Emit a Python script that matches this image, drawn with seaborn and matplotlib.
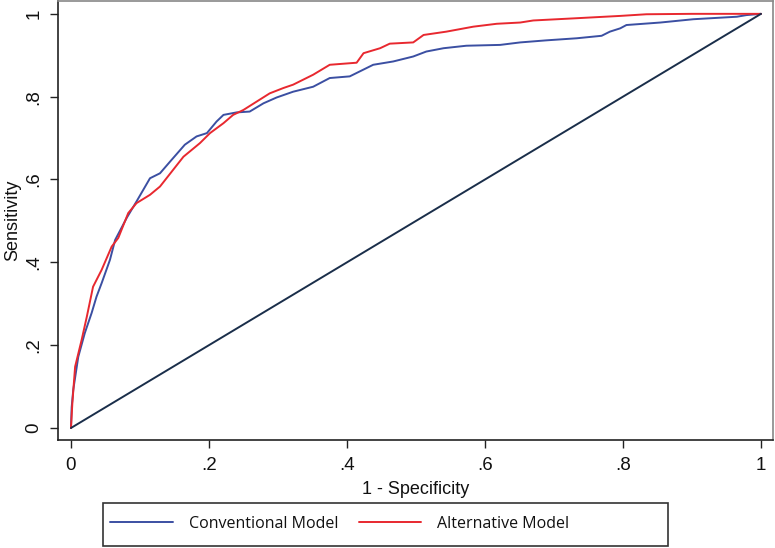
"""ROC curves: conventional vs alternative model (Stata-style look)."""

import matplotlib
matplotlib.use("Agg")
import matplotlib.pyplot as plt
import pandas as pd
import seaborn as sns
from matplotlib.patches import Rectangle

# curve points (1 - specificity, sensitivity)
conv_fpr = [0.0, 0.001, 0.0033, 0.0106, 0.020, 0.030, 0.037, 0.0445, 0.0565,
            0.064, 0.081, 0.095, 0.1145, 0.129, 0.1435, 0.165, 0.182, 0.197,
            0.211, 0.221, 0.240, 0.259, 0.279, 0.298, 0.322, 0.351, 0.375,
            0.404, 0.438, 0.467, 0.496, 0.515, 0.540, 0.573, 0.622, 0.651,
            0.689, 0.733, 0.769, 0.781, 0.796, 0.805, 0.854, 0.902, 0.965,
            0.979, 1.0]
conv_tpr = [0.0, 0.05, 0.092, 0.172, 0.229, 0.278, 0.317, 0.350, 0.406,
            0.454, 0.508, 0.547, 0.603, 0.615, 0.643, 0.684, 0.704, 0.712,
            0.740, 0.756, 0.762, 0.764, 0.784, 0.798, 0.812, 0.824, 0.845,
            0.849, 0.877, 0.885, 0.897, 0.909, 0.917, 0.923, 0.925, 0.931,
            0.936, 0.941, 0.947, 0.957, 0.965, 0.973, 0.979, 0.987, 0.993,
            0.997, 1.0]

alt_fpr = [0.0, 0.002, 0.006, 0.0155, 0.023, 0.032, 0.0445, 0.059, 0.0686,
           0.083, 0.095, 0.1145, 0.129, 0.146, 0.163, 0.187, 0.2015, 0.221,
           0.235, 0.250, 0.269, 0.288, 0.308, 0.322, 0.351, 0.375, 0.414,
           0.424, 0.448, 0.462, 0.496, 0.511, 0.544, 0.583, 0.617, 0.651,
           0.670, 0.728, 0.796, 0.834, 0.9, 1.0]
alt_tpr = [0.0, 0.06, 0.148, 0.213, 0.269, 0.341, 0.382, 0.438, 0.459,
           0.519, 0.543, 0.563, 0.583, 0.619, 0.655, 0.688, 0.712, 0.736,
           0.756, 0.768, 0.788, 0.808, 0.821, 0.829, 0.853, 0.877, 0.882,
           0.905, 0.917, 0.928, 0.931, 0.949, 0.957, 0.969, 0.976, 0.979,
           0.984, 0.989, 0.995, 0.999, 1.0, 1.0]

ref_x = [0.0, 1.0]
ref_y = [0.0, 1.0]

models = ["Conventional Model", "Alternative Model"]
ticks = [0, 0.2, 0.4, 0.6, 0.8, 1.0]
tick_labels = ["0", ".2", ".4", ".6", ".8", "1"]

BLUE = "#3b4fa2"
RED = "#e8282f"
NAVY = "#1a2e4a"

sns.set_style("ticks")
plt.rcParams["font.family"] = ["Liberation Sans", "DejaVu Sans"]

df = pd.concat([
    pd.DataFrame({"fpr": conv_fpr, "tpr": conv_tpr, "model": models[0]}),
    pd.DataFrame({"fpr": alt_fpr, "tpr": alt_tpr, "model": models[1]}),
], ignore_index=True)

fig = plt.figure(figsize=(7.75, 5.48), dpi=100)
ax = fig.add_axes([58 / 775, 108 / 548, 715 / 775, 439 / 548])

sns.lineplot(data=df, x="fpr", y="tpr", hue="model", palette=[BLUE, RED],
             sort=False, estimator=None, lw=1.4, ax=ax, legend=False)
sns.lineplot(x=ref_x, y=ref_y, color=NAVY, lw=1.4, ax=ax)

ax.set_xlim(-0.0188, 1.0174)
ax.set_ylim(-0.029, 1.031)
ax.set_xticks(ticks)
ax.set_xticklabels(tick_labels)
ax.set_yticks(ticks)
ax.set_yticklabels(tick_labels, rotation=90, va="center")
ax.tick_params(axis="both", direction="out", length=6, width=1,
               color="#222222", labelcolor="#111111", labelsize=13.5, pad=5,
               bottom=True, left=True, top=False, right=False)
ax.tick_params(axis="x", pad=6)
ax.set_xlabel("1 - Specificity", fontsize=13, labelpad=5, color="#111111")
ax.set_ylabel("Sensitivity", fontsize=13, labelpad=3, color="#111111")

for side in ("left", "bottom"):
    ax.spines[side].set_color("#222222")
    ax.spines[side].set_linewidth(1.2)
for side in ("top", "right"):
    ax.spines[side].set_visible(True)
    ax.spines[side].set_color("#888888")
    ax.spines[side].set_linewidth(1.2)

handles = [plt.Line2D([], [], color=BLUE, lw=1.4),
           plt.Line2D([], [], color=RED, lw=1.4)]
leg = fig.legend(handles, models, loc="center left",
                 bbox_to_anchor=(104 / 775, 1 - 524 / 548), ncol=2,
                 frameon=False, handlelength=3.9, handletextpad=1.0,
                 columnspacing=1.3, borderaxespad=0,
                 prop={"family": "Open Sans", "size": 11.5})
for t in leg.get_texts():
    t.set_color("#111111")

fig.patches.append(Rectangle((103 / 775, 2 / 548), 565 / 775, 43 / 548,
                             transform=fig.transFigure, fill=False,
                             edgecolor="#333333", lw=1.2))

fig.savefig("out.png", dpi=100)
